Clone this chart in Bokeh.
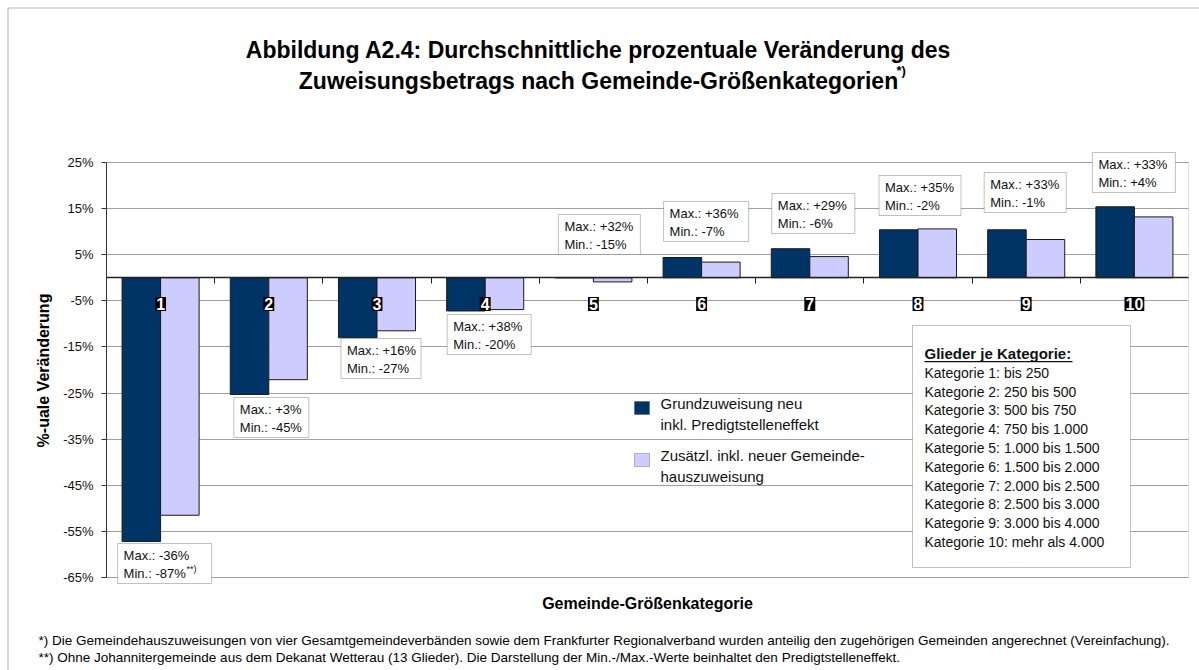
from bokeh.plotting import figure
from bokeh.models import Range1d, FixedTicker, Label, BoxAnnotation
from bokeh.embed import file_html
from bokeh.resources import INLINE

# ---------------- data ----------------
categories = [1, 2, 3, 4, 5, 6, 7, 8, 9, 10]
category_labels = ["1", "2", "3", "4", "5", "6", "7", "8", "9", "10"]
grundzuweisung = [-57.2, -25.3, -13.0, -7.2, 0.0, 4.4, 6.3, 10.4, 10.4, 15.4]
zusaetzlich = [-51.5, -22.1, -11.5, -6.9, -0.9, 3.4, 4.6, 10.6, 8.3, 13.2]
max_values = ["-36%", "+3%", "+16%", "+38%", "+32%", "+36%", "+29%", "+35%", "+33%", "+33%"]
min_values = ["-87%", "-45%", "-27%", "-20%", "-15%", "-7%", "-6%", "-2%", "-1%", "+4%"]
y_ticks = [25, 15, 5, -5, -15, -25, -35, -45, -55, -65]
y_tick_labels = ["25%", "15%", "5%", "-5%", "-15%", "-25%", "-35%", "-45%", "-55%", "-65%"]
series_1_lines = ["Grundzuweisung neu", "inkl. Predigtstelleneffekt"]
series_2_lines = ["Zusätzl. inkl. neuer  Gemeinde-", "hauszuweisung"]
kategorie_header = "Glieder je Kategorie:"
kategorie_lines = [
    "Kategorie 1: bis 250",
    "Kategorie 2: 250 bis 500",
    "Kategorie 3: 500 bis 750",
    "Kategorie 4: 750 bis 1.000",
    "Kategorie 5: 1.000 bis 1.500",
    "Kategorie 6: 1.500 bis 2.000",
    "Kategorie 7: 2.000 bis 2.500",
    "Kategorie 8: 2.500 bis 3.000",
    "Kategorie 9: 3.000 bis 4.000",
    "Kategorie 10: mehr als 4.000",
]
title_lines = [
    "Abbildung A2.4: Durchschnittliche prozentuale Veränderung des",
    "Zuweisungsbetrags nach Gemeinde-Größenkategorien",
]
y_title = "%-uale Veränderung"
x_title = "Gemeinde-Größenkategorie"
footnotes = [
    "*)  Die Gemeindehauszuweisungen von vier Gesamtgemeindeverbänden sowie dem Frankfurter Regionalverband wurden anteilig den zugehörigen Gemeinden angerechnet (Vereinfachung).",
    "**) Ohne Johannitergemeinde aus dem Dekanat Wetterau (13 Glieder). Die Darstellung der Min.-/Max.-Werte beinhaltet den Predigtstelleneffekt.",
]

# ---------------- layout (page pixels) ----------------
FONT = "Liberation Sans"
W, H = 1199, 670
P_LEFT, P_RIGHT, P_TOP, P_BOTTOM = 106, 1188, 162, 577   # plot area on the page
Y_MIN, Y_MAX = -65, 25
X_MIN, X_MAX = 0.5, 10.5
PX_PER_X = (P_RIGHT - P_LEFT) / (X_MAX - X_MIN)
PX_PER_Y = (P_BOTTOM - P_TOP) / (Y_MAX - Y_MIN)


def dx(px):
    return X_MIN + (px - P_LEFT) / PX_PER_X


def dy(py):
    return Y_MAX - (py - P_TOP) / PX_PER_Y


p = figure(
    width=W, height=H,
    x_range=Range1d(dx(0), dx(W)), y_range=Range1d(dy(H), dy(0)),
    output_backend="svg", toolbar_location=None,
    min_border=0, min_border_left=0, min_border_right=0, min_border_top=0, min_border_bottom=0,
    background_fill_color="white", border_fill_color="white",
    outline_line_color=None,
)
p.title.visible = False

# outer chart border (left/top visible, rest off-page)
p.add_layout(BoxAnnotation(left=dx(7.5), right=dx(1400), top=dy(7.5), bottom=dy(900),
                           fill_alpha=0, line_color="black", line_width=1))

# grid lines (plot area only)
grid = p.ygrid[0]
grid.ticker = FixedTicker(ticks=y_ticks)
grid.grid_line_color = "#a0a0a0"
if "cross_bounds" in grid.properties():
    grid.cross_bounds = (X_MIN, X_MAX)
else:
    grid.visible = False
    p.segment(x0=[X_MIN] * len(y_ticks), x1=[X_MAX] * len(y_ticks), y0=y_ticks, y1=y_ticks,
              line_color="#a0a0a0", line_width=1, level="underlay")
p.xgrid.visible = False

# plot area outline
p.add_layout(BoxAnnotation(left=X_MIN, right=X_MAX, top=Y_MAX, bottom=Y_MIN, fill_alpha=0,
                           line_color="#9a9a9a", line_width=1, level="underlay"))

# axes
xa = p.xaxis[0]
xa.fixed_location = 0
xa.bounds = (X_MIN, X_MAX)
xa.ticker = FixedTicker(ticks=[], minor_ticks=[c + 0.5 for c in categories[:-1]])
xa.major_tick_line_color = None
xa.minor_tick_in = 0
xa.minor_tick_out = 6
xa.minor_tick_line_color = "#222222"
xa.axis_line_color = "#222222"
xa.axis_line_width = 1.5

ya = p.yaxis[0]
ya.fixed_location = X_MIN
ya.bounds = (Y_MIN, Y_MAX)
ya.ticker = FixedTicker(ticks=y_ticks)
ya.major_label_overrides = {t: l for t, l in zip(y_ticks, y_tick_labels)}
ya.major_label_text_font = FONT
ya.major_label_text_font_size = "13px"
ya.major_label_text_color = "#111111"
ya.major_tick_in = 0
ya.major_tick_out = 5
ya.minor_tick_line_color = None
ya.axis_line_color = "#333333"
ya.major_tick_line_color = "#333333"
ya.major_label_standoff = 8

# bars
BW = 0.356
p.vbar(x=[c - BW / 2 for c in categories], top=grundzuweisung, bottom=0, width=BW,
       fill_color="#003366", line_color="#1a1a1a", line_width=1)
p.vbar(x=[c + BW / 2 for c in categories], top=zusaetzlich, bottom=0, width=BW,
       fill_color="#CCCCFF", line_color="#1a1a1a", line_width=1)

# category labels (white on black)
for c, lab in zip(categories, category_labels):
    p.add_layout(Label(x=c, y=dy(303.5), text=lab, text_align="center", text_baseline="middle",
                       text_font=FONT, text_font_size="16px", text_font_style="bold",
                       text_color="white", background_fill_color="black", padding=1))

# Max/Min boxes: left offset from category centre (px), width (px), top (page px)
box_left_off = [-43, -35, -36, -38, -35, -38, -38, -39, -42, -42]
box_width = [94, 75, 80, 84, 82, 85, 83, 82, 82, 83]
box_top = [543, 397, 338, 314, 214, 201, 193, 175, 172, 152]
BOX_H = 40
for i, c in enumerate(categories):
    cx = P_LEFT + (c - X_MIN) * PX_PER_X
    left = cx + box_left_off[i]
    p.add_layout(BoxAnnotation(left=dx(left), right=dx(left + box_width[i]),
                               top=dy(box_top[i]), bottom=dy(box_top[i] + BOX_H),
                               fill_color="white", fill_alpha=1, line_color="#333333", line_width=1))
    p.add_layout(Label(x=dx(left + 6), y=dy(box_top[i] + 11.5), text="Max.: " + max_values[i],
                       text_baseline="middle", text_font=FONT, text_font_size="13px", text_color="#111111"))
    p.add_layout(Label(x=dx(left + 6), y=dy(box_top[i] + 29.5), text="Min.: " + min_values[i],
                       text_baseline="middle", text_font=FONT, text_font_size="13px", text_color="#111111"))
    if i == 0:
        p.add_layout(Label(x=dx(left + 69), y=dy(box_top[i] + 25), text="**)",
                           text_baseline="middle", text_font=FONT, text_font_size="9px", text_color="#111111"))

# legend
sw_top = [401, 453]
sw_colors = ["#003366", "#CCCCFF"]
for top, col, lines in zip(sw_top, sw_colors, [series_1_lines, series_2_lines]):
    p.add_layout(BoxAnnotation(left=dx(634), right=dx(649), top=dy(top), bottom=dy(top + 13),
                               fill_color=col, fill_alpha=1, line_color="#333333", line_width=1))
    for j, t in enumerate(lines):
        p.add_layout(Label(x=dx(660), y=dy(top + 2 + 21 * j), text=t, text_baseline="middle",
                           text_font=FONT, text_font_size="15px", text_color="#111111"))

# Kategorie box
p.add_layout(BoxAnnotation(left=dx(912), right=dx(1130), top=dy(325), bottom=dy(567),
                           fill_color="white", fill_alpha=1, line_color="#333333", line_width=1))
p.add_layout(Label(x=dx(924), y=dy(353), text=kategorie_header, text_baseline="middle",
                   text_font=FONT, text_font_size="15px", text_font_style="bold", text_color="#111111"))
p.add_layout(BoxAnnotation(left=dx(924), right=dx(1072), top=dy(360.5), bottom=dy(361.8),
                           fill_color="#111111", fill_alpha=1, line_alpha=0))
for j, t in enumerate(kategorie_lines):
    p.add_layout(Label(x=dx(924), y=dy(372.3 + 18.8 * j), text=t, text_baseline="middle",
                       text_font=FONT, text_font_size="14px", text_color="#111111"))

# titles
for j, t in enumerate(title_lines):
    p.add_layout(Label(x=dx(598), y=dy(49 + 31 * j), text=t, text_align="center",
                       text_baseline="alphabetic", text_font=FONT, text_font_size="23px",
                       text_font_style="bold", text_color="black"))
p.add_layout(Label(x=dx(896), y=dy(70), text="*)", text_baseline="alphabetic", text_font=FONT,
                   text_font_size="13px", text_font_style="bold", text_color="black"))

# axis titles
p.add_layout(Label(x=dx(43), y=dy(370), text=y_title, angle=90, angle_units="deg",
                   text_align="center", text_baseline="middle", text_font=FONT,
                   text_font_size="16px", text_font_style="bold", text_color="black"))
p.add_layout(Label(x=dx(647), y=dy(603), text=x_title, text_align="center",
                   text_baseline="middle", text_font=FONT, text_font_size="16px",
                   text_font_style="bold", text_color="black"))

# footnotes
for j, t in enumerate(footnotes):
    p.add_layout(Label(x=dx(38), y=dy(640 + 17 * j), text=t, text_baseline="middle",
                       text_font=FONT, text_font_size="13.5px", text_color="black"))

open("out.html", "w").write(file_html(p, INLINE))
